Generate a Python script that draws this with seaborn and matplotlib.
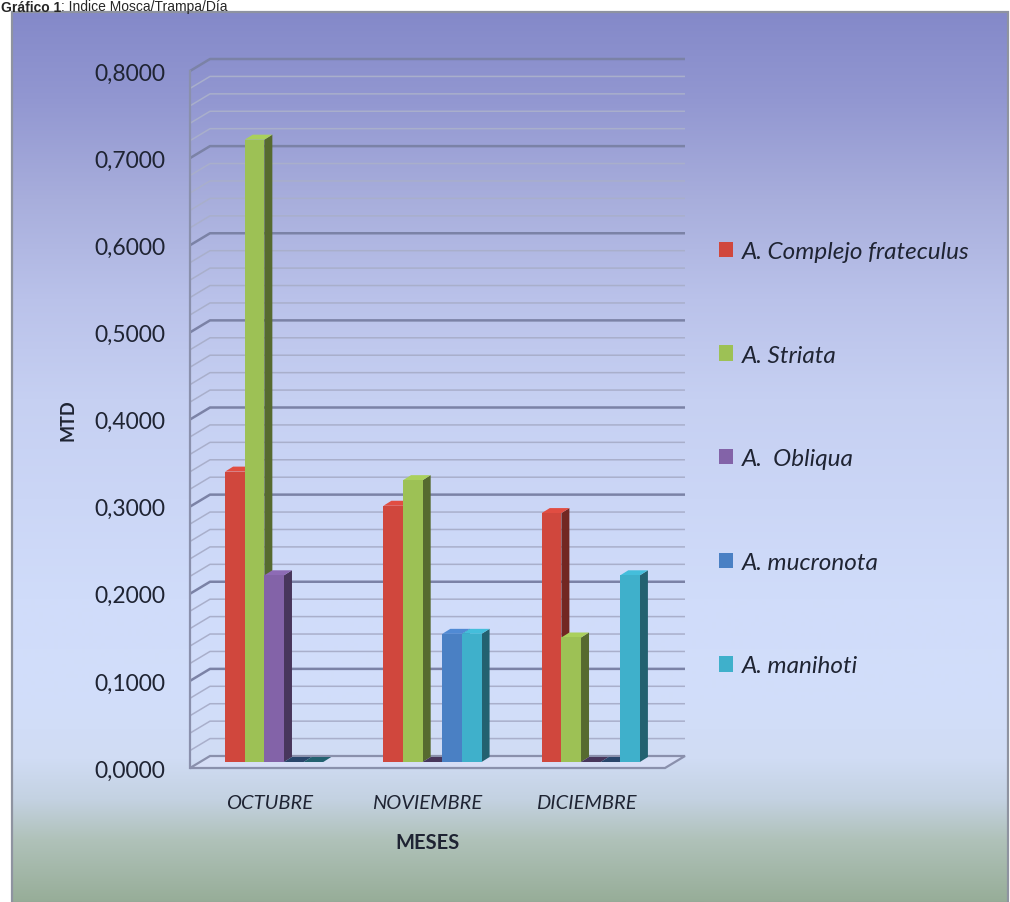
import numpy as np
import pandas as pd
import matplotlib
matplotlib.use("Agg")
import matplotlib.pyplot as plt
import matplotlib.colors as mcolors
from matplotlib.patches import Polygon, Rectangle
from matplotlib.transforms import ScaledTranslation
import seaborn as sns

# ---------------- data ----------------
months = ["OCTUBRE", "NOVIEMBRE", "DICIEMBRE"]
species = ["A. Complejo frateculus", "A. Striata", "A.  Obliqua",
           "A. mucronota", "A. manihoti"]
v_frat = [0.3333, 0.2941, 0.2857]
v_striata = [0.7143, 0.3235, 0.1429]
v_obliqua = [0.2143, 0.0, 0.0]
v_mucronota = [0.0, 0.1471, 0.0]
v_manihoti = [0.0, 0.1471, 0.2143]
y_ticks = [0.0, 0.1, 0.2, 0.3, 0.4, 0.5, 0.6, 0.7, 0.8]
y_tick_labels = ["0,0000", "0,1000", "0,2000", "0,3000", "0,4000",
                 "0,5000", "0,6000", "0,7000", "0,8000"]
colors = ["#D0473D", "#9DC155", "#8363A8", "#4A80C4", "#3FB0CB"]

title_bold = "Gráfico 1"
title_rest = ": Índice Mosca/Trampa/Día"

series = [v_frat, v_striata, v_obliqua, v_mucronota, v_manihoti]
df = pd.DataFrame({
    "Mes": [m for s in series for m in months],
    "Especie": [sp for sp, s in zip(species, series) for _ in months],
    "MTD": [v for s in series for v in s],
})

sns.set_theme(style="white")
plt.rcParams["font.family"] = ["Lato", "DejaVu Sans"]

W, H = 1010, 903
fig = plt.figure(figsize=(W / 100, H / 100), dpi=100)

# ---------------- background ----------------
bg = fig.add_axes([0, 0, 1, 1], zorder=-10)
bg.set_xlim(0, W)
bg.set_ylim(H, 0)
bg.axis("off")
stops_y = [13, 100, 200, 300, 400, 500, 600, 700, 760, 800, 840, 903]
stops_c = ["#8489C9", "#9297D1", "#A8AEDC", "#BAC2EA", "#C6D0F2", "#CBD6F6",
           "#D0DCFA", "#D2DEFA", "#D0DCF4", "#C4D2E2", "#B0C2BA", "#97AD98"]
rgb = np.array([mcolors.to_rgb(c) for c in stops_c])
yy = np.arange(13, H + 1)
grad = np.stack([np.interp(yy, stops_y, rgb[:, k]) for k in range(3)], axis=1)
bg.imshow(grad[:, None, :], extent=(12, W - 2, H, 13), aspect="auto",
          interpolation="bilinear")
bg.add_patch(Rectangle((12, 13), W - 14, H - 12, fill=False,
                       edgecolor="#8E93A0", lw=1.6))

t1 = bg.text(1, 11.5, title_bold, fontsize=10, fontweight="bold",
             family=["Liberation Sans", "DejaVu Sans"], va="baseline", ha="left")
fig.canvas.draw()
bb = t1.get_window_extent(fig.canvas.get_renderer())
bg.text(1 + bb.width, 11.5, title_rest, fontsize=10,
        family=["Liberation Sans", "DejaVu Sans"], va="baseline", ha="left")

# ---------------- main axes ----------------
ax_l, ax_r, ax_b, ax_t = 190, 665, 769, 72
ax = fig.add_axes([ax_l / W, 1 - ax_b / H, (ax_r - ax_l) / W, (ax_b - ax_t) / H])
ax.patch.set_alpha(0)

sns.barplot(data=df, x="Mes", y="MTD", hue="Especie", order=months,
            hue_order=species, palette=colors, width=0.62, saturation=1,
            errorbar=None, ax=ax, legend=True, linewidth=0)

xlim = (-0.5, 2.5)
ylim = (0, 0.8)
ax.set_xlim(*xlim)
ax.set_ylim(*ylim)
xpd = (xlim[1] - xlim[0]) / (ax_r - ax_l)
ypd = (ylim[1] - ylim[0]) / (ax_b - ax_t)

# walls / grid (pixel offsets converted to data units)
wdx, wdy = 20 * xpd, 12 * ypd
minor = np.round(np.arange(0, 0.8001, 0.02), 2)
for yv in minor:
    is_major = abs(yv * 10 - round(yv * 10)) < 1e-6
    c = "#7B82A6" if is_major else "#A9AFCB"
    lw = 1.8 if is_major else 1.1
    if yv == 0:
        continue
    ax.plot([xlim[0], xlim[0] + wdx, xlim[1] + wdx], [yv, yv + wdy, yv + wdy],
            color=c, lw=lw, clip_on=False, zorder=1, solid_capstyle="butt")
floor = Polygon([(xlim[0], 0), (xlim[1], 0), (xlim[1] + wdx, wdy),
                 (xlim[0] + wdx, wdy)], closed=True, facecolor="#D6DEF6",
                edgecolor="#8A90AC", lw=1.6, clip_on=False, zorder=2)
ax.add_patch(floor)

# ---------------- 3D bars ----------------
bdx_px, bdy_px = 5, 6      # bar placement inside the depth
sdx, sdy = 8 * xpd, 5 * ypd  # bar depth
shift = ax.transData + ScaledTranslation(bdx_px / 100, bdy_px / 100,
                                         fig.dpi_scale_trans)
bars = [p for p in ax.patches if isinstance(p, Rectangle) and p is not floor]
bars = [p for p in bars if p.get_width() < 0.5]
bars.sort(key=lambda p: p.get_x())
for i, p in enumerate(bars):
    x, w, h = p.get_x(), p.get_width(), p.get_height()
    base = np.array(mcolors.to_rgb(p.get_facecolor()))
    dark = base * 0.55
    light = np.clip(base * 1.08, 0, 1)
    z = 10 + 3 * i
    side = Polygon([(x + w, 0), (x + w + sdx, sdy), (x + w + sdx, h + sdy),
                    (x + w, h)], closed=True, facecolor=dark, edgecolor="none",
                   transform=shift, clip_on=False, zorder=z)
    top = Polygon([(x, h), (x + sdx, h + sdy), (x + w + sdx, h + sdy),
                   (x + w, h)], closed=True,
                  facecolor=(dark if h == 0 else light), edgecolor="none",
                  transform=shift, clip_on=False, zorder=z + 1)
    ax.add_patch(side)
    ax.add_patch(top)
    p.set_transform(shift)
    p.set_clip_on(False)
    p.set_zorder(z + 2)

# ---------------- axes styling ----------------
for s in ["top", "right", "bottom"]:
    ax.spines[s].set_visible(False)
ax.spines["left"].set_color("#8A90AC")
ax.spines["left"].set_linewidth(1.6)
ax.set_yticks(y_ticks)
ax.set_yticklabels(y_tick_labels)
ax.tick_params(axis="y", direction="out", length=6.5, width=1.4,
               color="#8A90AC", pad=11, labelsize=16.5, labelcolor="#1F2433")
ax.tick_params(axis="x", length=0, pad=19)
for lab in ax.get_xticklabels():
    lab.set_fontstyle("italic")
    lab.set_fontsize(14.5)
    lab.set_color("#1F2433")
ax.set_xlabel("MESES", fontsize=14.5, fontweight="bold", color="#1F2433",
              labelpad=15)
ax.set_ylabel("MTD", fontsize=13, fontweight="bold", color="#1F2433",
              labelpad=13)
ax.grid(False)

# ---------------- legend ----------------
handles, labels = ax.get_legend_handles_labels()
if ax.get_legend() is not None:
    ax.get_legend().remove()
leg = fig.legend(handles, labels, loc="upper left",
                 bbox_to_anchor=(697 / W, 1 - 220 / H), frameon=False,
                 fontsize=17.5, handlelength=0.6, handleheight=0.6,
                 handletextpad=0.35, labelspacing=3.4)
for t in leg.get_texts():
    t.set_fontstyle("italic")
    t.set_color("#1F2433")

fig.savefig("out.png", dpi=100)
